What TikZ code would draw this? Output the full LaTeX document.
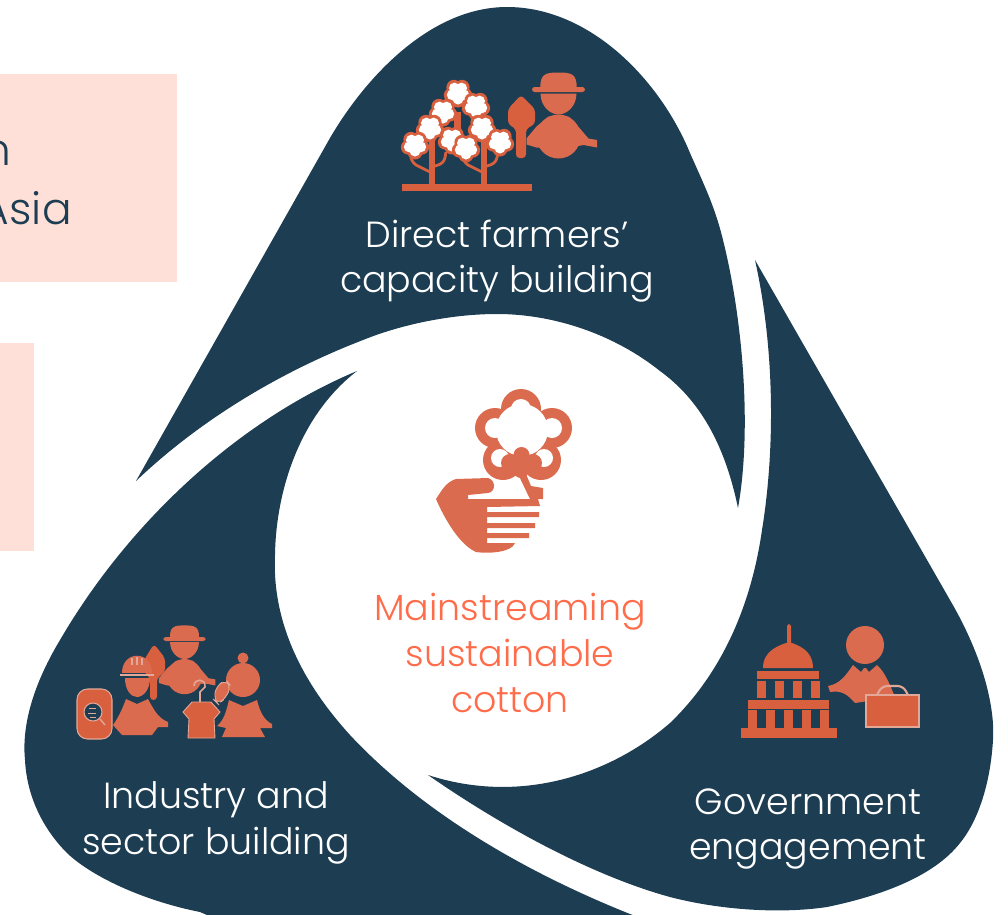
\documentclass[tikz,border=0pt]{standalone}
\usepackage{fontspec}
\setmainfont{Poppins}[UprightFont=* Light]
\usepackage{tikz}
\definecolor{navy}{HTML}{1D3D52}
\definecolor{rust}{HTML}{DB6B4F}
\definecolor{rustdark}{HTML}{D8603F}
\definecolor{pale}{HTML}{E3A797}
\definecolor{coral}{HTML}{FF6C4A}
\definecolor{blush}{HTML}{FFE0D9}
\tikzset{
	blade/.style={fill=navy},
	panel/.style={fill=blush},
	icon/.style={fill=rust},
	icondark/.style={fill=rustdark},
	iconline/.style={draw=pale, line width=0.9pt},
	caption/.style={text=white, align=center, font=\fontsize{20.7}{26}\selectfont},
	sidetext/.style={text=navy, anchor=base east, inner sep=0pt, font=\fontsize{25}{30}\selectfont},
	boll/.pic={
		\foreach \a in {90,162,234,306,18} \fill [rustdark] (\a:7) circle [radius=7.5];
		\foreach \a in {90,162,234,306,18} \fill [white] (\a:6) circle [radius=5.5];
		\fill [white] (0,0) circle [radius=5];
	},
	farmer/.pic={
		\fill [icon] (-18,-1) .. controls (-19,-16) and (-12,-17) .. (0,-17) .. controls (12,-17) and (19,-16) .. (18,-1) -- cycle;
		\fill [icon, rounded corners=1.5] (-26.5,-2.5) rectangle (26.5,2.5);
		\fill [icon] (-18,4) -- (18,4) .. controls (18,17) and (8,25) .. (0,25) .. controls (-8,25) and (-18,17) .. (-18,4) -- cycle;
		\fill [icon] (0,47) circle [radius=22];
		\fill [icon] (-10,27) -- (0,31) -- (10,27) -- (18,35) -- (30,49) -- (38.5,50.5) -- (38.5,58) -- (25,55.5) -- (0,60) -- (-22,58) -- (-32,55) -- (-32,49) -- (-22,37) -- cycle;
	}
}
\begin{document}
\begin{tikzpicture}[x=0.02cm, y=-0.02cm]
	\useasboundingbox (0,0) rectangle (1008,914);
	% side panels
	\fill [panel] (0,74) rectangle (177,282);
	\fill [panel] (0,343) rectangle (34,551);
	\node [sidetext] (sideA) at (12,165) {n};
	\node [sidetext] (sideB) at (72,224) {Asia};
	% blades
	\fill [blade] (136,481) -- (330,138) .. controls (365,78) and (430,7) .. (507,7) .. controls (590,7) and (660,80) .. (690,153) .. controls (705,187) and (715,207) .. (723,240) .. controls (743,320) and (752,430) .. (738,508) .. controls (725,445) and (700,400) .. (660,371) .. controls (615,335) and (555,314) .. (497,314) .. controls (450,314) and (400,325) .. (363,340) .. controls (280,372) and (200,420) .. (136,481) -- cycle;
	\fill [blade] (755,260) -- (950,600) .. controls (985,660) and (995,710) .. (993,740) .. controls (990,790) and (975,825) .. (960,843) .. controls (935,875) and (885,895) .. (827,907) .. controls (780,914) and (720,910) .. (670,897) .. controls (590,875) and (500,825) .. (428,775) .. controls (520,805) and (610,775) .. (670,723) .. controls (725,670) and (752,600) .. (762,530) .. controls (775,450) and (775,350) .. (755,260) -- cycle;
	\fill [blade] (357,371) .. controls (240,420) and (130,520) .. (60,640) .. controls (30,690) and (22,730) .. (25,760) .. controls (27,800) and (46,832) .. (67,853) .. controls (90,875) and (140,900) .. (200,912) -- (230,925) -- (660,925) -- (630,914) .. controls (520,870) and (420,810) .. (350,735) .. controls (300,680) and (272,620) .. (275,555) .. controls (276,490) and (300,415) .. (357,371) -- cycle;
	% captions
	\node [caption] (direct) at (497,261) {Direct farmers’\\capacity building};
	\node [caption] (industry) at (216,823) {Industry and\\sector building};
	\node [caption] (government) at (808,829) {Government\\engagement};
	\node [caption, text=coral] (mainstream) at (510,653) {Mainstreaming\\sustainable\\cotton};
	% trees and farmer
	\fill [icondark] (402,184) rectangle (532,191);
	\fill [icondark] (454,112) rectangle (461,135);
	\foreach \x in {432,484} {
		\fill [icondark] (\x-3,135) rectangle (\x+3,185);
		\draw [rustdark, line width=1.6pt, rounded corners=3] (\x,173) -- (\x-20,163) -- (\x-22,152);
		\draw [rustdark, line width=1.6pt, rounded corners=3] (\x,167) -- (\x+12,163) -- (\x+14,152);
	}
	\foreach \x/\y in {458/93,443/112,476/106,430/128,452/140,482/128,415/145,466/148,500/142}
		\pic at (\x,\y) {boll};
	\fill [icondark, rounded corners=2] (508,109) -- (521,95) -- (535,109) -- (535,124) -- (526,129) -- (526,158) -- (516,158) -- (516,129) -- (508,124) -- cycle;
	\pic at (558.5,89.5) {farmer};
	% cotton and hand
	\foreach \x/\y/\r in {521/409/20,495/428/20,552/428/20,503/460/20,541/460/20}
		\fill [rust] (\x,\y) circle [radius=\r];
	\foreach \x/\y/\r in {521/409/10,495/428/10,552/428/10,500/458/9,544/458/9,522/430/26}
		\fill [white] (\x,\y) circle [radius=\r];
	\foreach \x/\y/\r in {521.5/455/8,510/463/9,533/463/9,521/470/8}
		\fill [rust] (\x,\y) circle [radius=\r];
	\fill [rust] (518,474) -- (526,474) -- (531,486) -- (543,488) -- (543,499) -- (530,499) -- cycle;
	\fill [rust] (436,499) .. controls (442,490) and (446,482) .. (456,479) -- (488,478) .. controls (496,480) and (496,492) .. (488,493) -- (468,495) -- (468,499) -- (538,499) -- (540,506) -- (487,507) -- (487,512) -- (539,512) -- (539,517) -- (487,517) -- (487,523) -- (535,523) -- (535,528) -- (487,528) -- (487,533) -- (529,533) -- (529,538) -- (487,538) -- (487,543) -- (515,543) .. controls (512,552) and (490,554) .. (476,552) .. controls (460,545) and (445,520) .. (436,499) -- cycle;
	% people of the sector
	\fill [icondark, rounded corners=2] (144,660) -- (154,644) -- (165,658) -- (165,672) -- (157,678) -- (157,700) -- (150,700) -- (150,678) -- (144,672) -- cycle;
	\pic [scale=0.8] at (184.5,639) {farmer};
	\fill [icon] (122,673) .. controls (122,650) and (152,650) .. (152,673) -- cycle;
	\draw [iconline] (120,675) -- (154,675);
	\draw [iconline] (132,658) -- (132,665) (137,657) -- (137,665) (142,658) -- (142,665);
	\fill [icon] (125,678) -- (150,678) .. controls (150,690) and (143,697) .. (137,697) .. controls (131,697) and (125,690) .. (125,678) -- cycle;
	\fill [icon] (126,699) -- (137,704) -- (148,699) .. controls (154,710) and (158,718) .. (168,722) -- (168,727) -- (158,727) -- (152,735) -- (122,735) -- (113,725) .. controls (118,718) and (122,710) .. (126,699) -- cycle;
	\fill [icondark, draw=pale, line width=0.6pt, rounded corners=6] (77,689) rectangle (112,739);
	\fill [navy, draw=pale, line width=0.6pt] (93,712) circle [radius=9];
	\draw [pale, line width=0.8pt] (100,719) -- (105,725);
	\draw [pale, line width=0.5pt] (89,708) -- (96,708) (88,713) -- (96,713) (90,717) -- (96,717);
	\fill [icon] (243,680) circle [radius=17];
	\fill [icon] (243,658) circle [radius=5.5];
	\fill [icon] (229,700) -- (243,706) -- (257,700) .. controls (260,712) and (264,720) .. (272,724) -- (272,728) -- (260,728) -- (265,737) -- (222,737) -- (226,728) -- (217,726) .. controls (224,720) and (226,712) .. (229,700) -- cycle;
	\fill [icon, draw=pale, line width=0.5pt, rounded corners=4] (214,700) -- (216,686) -- (226,680) -- (231,686) -- (226,698) -- (218,704) -- cycle;
	\fill [icondark, draw=pale, line width=0.5pt] (192,702) -- (211,702) -- (220,712) -- (214,719) -- (215,738) -- (188,738) -- (189,719) -- (183,712) -- cycle;
	\draw [pale, line width=0.9pt] (194,686) .. controls (194,678) and (206,678) .. (205,687) -- (200,692) -- (200,702);
	% capitol and minister
	\fill [icondark, rounded corners=1] (787,644) -- (787,624) -- (791,624) -- (791,644) -- cycle;
	\fill [icondark] (763,668) .. controls (763,650) and (780,645) .. (789,642) .. controls (798,645) and (813,650) .. (813,668) -- cycle;
	\fill [icondark] (757,671) rectangle (819,679);
	\foreach \x in {757,775,793,811}
		\fill [icondark] (\x,681) rectangle (\x+9,698);
	\fill [icondark] (748,700) rectangle (829,709);
	\foreach \x in {748,766,784,802,820}
		\fill [icondark] (\x,710) rectangle (\x+9,728);
	\fill [icondark] (741,728) rectangle (837,738);
	\fill [icon] (865,645) circle [radius=19];
	\fill [icon] (853,665) -- (861,672) -- (864,668) -- (866,668) -- (869,672) -- (877,665) .. controls (885,672) and (890,685) .. (895,697) -- (875,700) -- (855,703) .. controls (848,695) and (842,690) .. (830,692) -- (828,686) .. controls (840,684) and (846,675) .. (853,665) -- cycle;
	\fill [icondark, draw=pale, line width=0.6pt] (866,695) rectangle (919,727);
	\draw [pale, line width=1.2pt, rounded corners=3] (877,695) -- (882,686) -- (903,686) -- (908,695);
\end{tikzpicture}
\end{document}
